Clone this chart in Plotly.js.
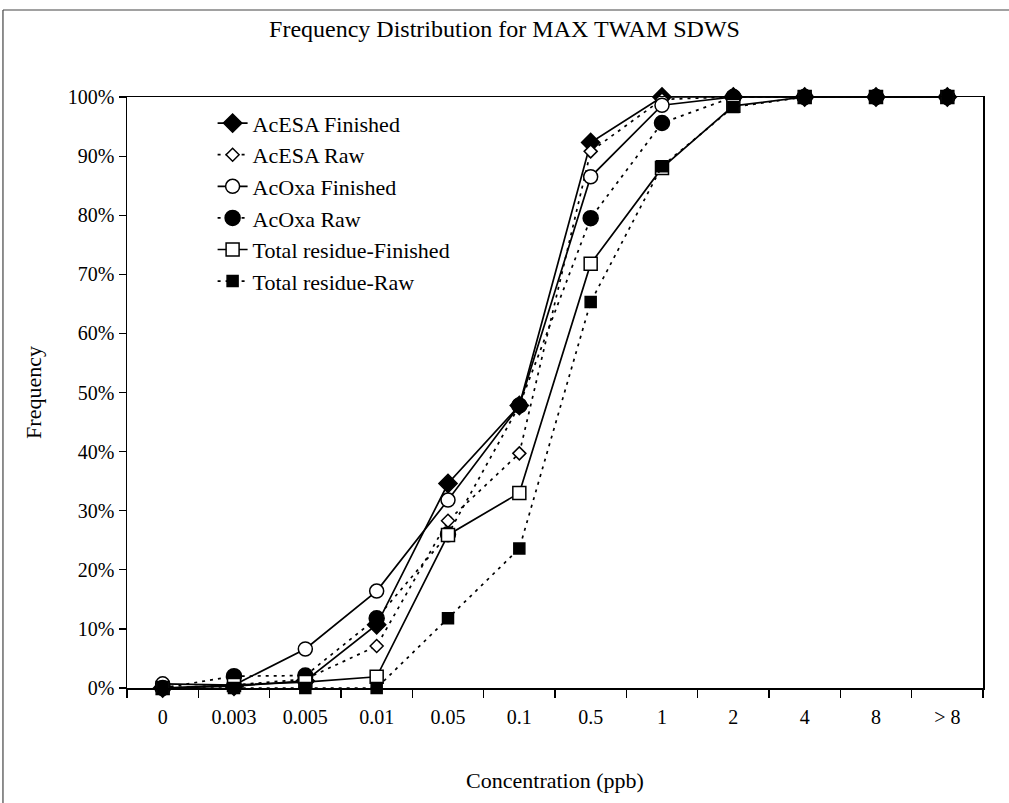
<!DOCTYPE html>
<html>
<head>
<meta charset="utf-8">
<script src="https://cdn.plot.ly/plotly-3.0.1.min.js"></script>
<style>
  html, body { margin: 0; padding: 0; background: #fff; }
  #chart { width: 1009px; height: 803px; }
</style>
</head>
<body>
<div id="chart"></div>
<script>
// Concentration bins (ppb)
const categories = ['0', '0.003', '0.005', '0.01', '0.05', '0.1', '0.5', '1', '2', '4', '8', '> 8'];

// Cumulative frequency (%) per bin
const acesaFinished = [0, 0.3, 1.2, 10.7, 34.6, 47.8, 92.3, 100, 100, 100, 100, 100];
const acesaRaw      = [0, 0.5, 1.5, 7.1, 28.3, 39.7, 90.8, 99.6, 100, 100, 100, 100];
const acoxaFinished = [0.7, 0.5, 6.6, 16.4, 31.8, 47.8, 86.5, 98.6, 100, 100, 100, 100];
const acoxaRaw      = [0, 2.0, 2.1, 11.8, 26.0, 47.8, 79.5, 95.6, 100, 100, 100, 100];
const totalFinished = [0, 0.5, 1.0, 1.9, 25.9, 33.0, 71.8, 88.0, 98.5, 100, 100, 100];
const totalRaw      = [0, 0, 0, 0, 11.8, 23.6, 65.3, 88.3, 98.3, 100, 100, 100];

const seriesNames = ['AcESA Finished', 'AcESA Raw', 'AcOxa Finished', 'AcOxa Raw',
                     'Total residue-Finished', 'Total residue-Raw'];

const FONT = 'Liberation Serif, Times New Roman, serif';
const DOTTED = '3px,5px';

function series(name, values, symbol, size, filled, dashed) {
  return {
    type: 'scatter',
    mode: 'lines+markers',
    name: name,
    x: categories,
    y: values.map(v => v / 100),
    line: { color: '#000', width: 1.7, dash: dashed ? DOTTED : 'solid' },
    marker: {
      symbol: symbol,
      size: size,
      color: filled ? '#000' : '#fff',
      line: { color: '#000', width: 1.5 }
    },
    cliponaxis: false
  };
}

const traces = [
  series(seriesNames[0], acesaFinished, 'diamond', 14, true, false),
  series(seriesNames[1], acesaRaw, 'diamond', 10, false, true),
  series(seriesNames[2], acoxaFinished, 'circle', 14, false, false),
  series(seriesNames[3], acoxaRaw, 'circle', 15, true, true),
  series(seriesNames[4], totalFinished, 'square', 13, false, false),
  series(seriesNames[5], totalRaw, 'square', 11, true, true)
];

const layout = {
  width: 1009,
  height: 803,
  margin: { l: 127, r: 26, t: 97, b: 115 },
  paper_bgcolor: '#fff',
  plot_bgcolor: '#fff',
  font: { family: FONT, size: 20, color: '#000' },
  title: {
    text: 'Frequency Distribution for MAX TWAM SDWS',
    font: { family: FONT, size: 24, color: '#000' },
    x: 0.5, xanchor: 'center',
    y: 0.965, yanchor: 'middle'
  },
  showlegend: true,
  legend: {
    x: 0.1, xanchor: 'left',
    y: 0.991, yanchor: 'top',
    bgcolor: 'rgba(0,0,0,0)',
    borderwidth: 0,
    font: { family: FONT, size: 22, color: '#000' }
  },
  xaxis: {
    type: 'category',
    categoryorder: 'array',
    categoryarray: categories,
    range: [-0.5, categories.length - 0.5],
    showline: true, linecolor: '#000', linewidth: 1.5,
    mirror: true,
    showgrid: false, zeroline: false,
    ticks: 'outside', tickson: 'boundaries', ticklen: 8, tickwidth: 1.2, tickcolor: '#000',
    ticklabelstandoff: 10,
    tickfont: { family: FONT, size: 20, color: '#000' },
    title: { text: 'Concentration (ppb)', font: { family: FONT, size: 22, color: '#000' }, standoff: 46 },
    fixedrange: true
  },
  yaxis: {
    range: [0, 1],
    dtick: 0.1,
    tickformat: '.0%',
    showline: true, linecolor: '#000', linewidth: 1.5,
    mirror: true,
    showgrid: false, zeroline: false,
    ticks: 'outside', ticklen: 7, tickwidth: 1.2, tickcolor: '#000',
    tickfont: { family: FONT, size: 20, color: '#000' },
    title: { text: 'Frequency', font: { family: FONT, size: 22, color: '#000' }, standoff: 20 },
    fixedrange: true
  },
  shapes: [
    { type: 'line', xref: 'paper', yref: 'paper', x0: -0.1449, x1: 1.04, y0: 1.1472, y1: 1.1472,
      line: { color: '#444', width: 1.2 } },
    { type: 'line', xref: 'paper', yref: 'paper', x0: -0.1449, x1: -0.1449, y0: -0.21, y1: 1.1472,
      line: { color: '#444', width: 1.2 } }
  ]
};

Plotly.newPlot('chart', traces, layout, { displayModeBar: false, staticPlot: true });
</script>
</body>
</html>
